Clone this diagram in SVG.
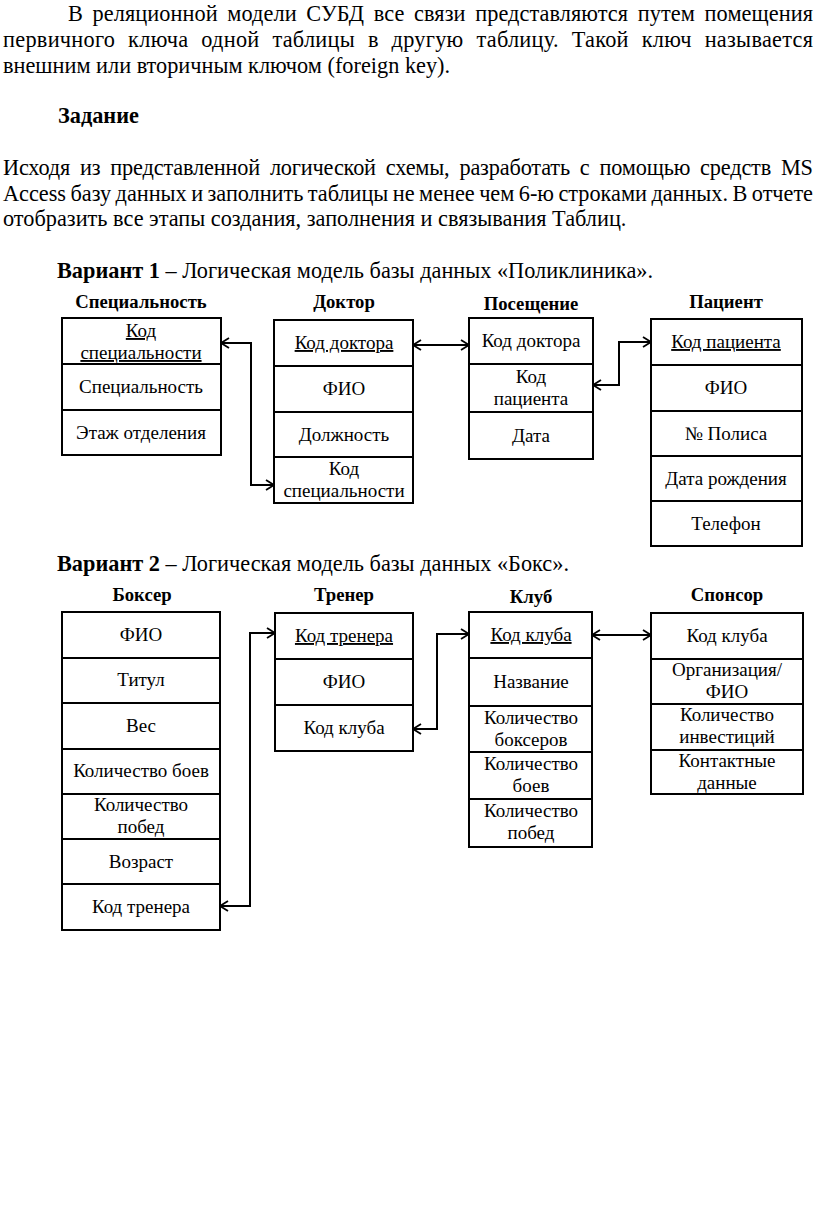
<svg xmlns="http://www.w3.org/2000/svg" width="816" height="1229" viewBox="0 0 816 1229">
<style>
.body{font-family:"Liberation Serif","Times New Roman",serif;font-size:22.3px;fill:#000}
.b{font-weight:bold}
.title{font-family:"Liberation Serif","Times New Roman",serif;font-size:18.7px;font-weight:bold;text-anchor:middle;fill:#000}
.cell{font-family:"Liberation Serif","Times New Roman",serif;font-size:19px;text-anchor:middle;fill:#000}
.u{text-decoration:underline}
.box{fill:#fff;stroke:#000;stroke-width:2}
.sep{stroke:#000;stroke-width:2}
.con{fill:none;stroke:#000;stroke-width:2;marker-start:url(#ah);marker-end:url(#ah)}
</style>
<defs>
<marker id="ah" markerWidth="12" markerHeight="12" refX="9" refY="6" orient="auto-start-reverse" markerUnits="userSpaceOnUse">
<path d="M1,1 L9,6 L1,11" fill="none" stroke="#000" stroke-width="1.8"/>
</marker>
</defs>
<rect width="816" height="1229" fill="#fff"/>

<g id="intro">
<text class="body" x="68" y="21" word-spacing="4" textLength="745" lengthAdjust="spacing">В реляционной модели СУБД все связи представляются путем помещения</text>
<text class="body" x="3" y="47" word-spacing="7" textLength="810" lengthAdjust="spacing">первичного ключа одной таблицы в другую таблицу. Такой ключ называется</text>
<text class="body" x="3" y="72.5">внешним или вторичным ключом (foreign key).</text>
<text class="body b" x="58" y="123">Задание</text>
<text class="body" x="3" y="175" word-spacing="4.5" textLength="810" lengthAdjust="spacing">Исходя из представленной логической схемы, разработать с помощью средств MS</text>
<text class="body" x="3" y="201" word-spacing="-1" textLength="810" lengthAdjust="spacing">Access базу данных и заполнить таблицы не менее чем 6-ю строками данных. В отчете</text>
<text class="body" x="3" y="226">отобразить все этапы создания, заполнения и связывания Таблиц.</text>
<text class="body" x="57" y="278"><tspan class="b">Вариант 1</tspan> – Логическая модель базы данных «Поликлиника».</text>
<text class="body" x="57" y="571"><tspan class="b">Вариант 2</tspan> – Логическая модель базы данных «Бокс».</text>
</g>

<g id="connectors">
<path class="con" d="M221,343 H251 V485 H274"/>
<path class="con" d="M413,345 H469"/>
<path class="con" d="M593,385 H619 V342 H651"/>
<path class="con" d="M220,906 H250 V633 H275"/>
<path class="con" d="M413,729 H437 V634 H469"/>
<path class="con" d="M592,635 H651"/>
</g>

<g id="t-specialnost">
<text class="title" x="141" y="308">Специальность</text>
<rect class="box" x="62" y="318" width="159" height="137"/>
<path class="sep" d="M62,364 H221 M62,410 H221"/>
<text class="cell u" x="141" y="337">Код</text>
<text class="cell u" x="141" y="359">специальности</text>
<text class="cell" x="141" y="393">Специальность</text>
<text class="cell" x="141" y="439">Этаж отделения</text>
</g>

<g id="t-doktor">
<text class="title" x="344" y="308">Доктор</text>
<rect class="box" x="274" y="320" width="139" height="183"/>
<path class="sep" d="M274,366 H413 M274,412 H413 M274,457 H413"/>
<text class="cell u" x="344" y="349">Код доктора</text>
<text class="cell" x="344" y="395">ФИО</text>
<text class="cell" x="344" y="441">Должность</text>
<text class="cell" x="344" y="475">Код</text>
<text class="cell" x="344" y="497">специальности</text>
</g>

<g id="t-poseshchenie">
<text class="title" x="531" y="310">Посещение</text>
<rect class="box" x="469" y="318" width="124" height="141"/>
<path class="sep" d="M469,364 H593 M469,412 H593"/>
<text class="cell" x="531" y="347">Код доктора</text>
<text class="cell" x="531" y="383">Код</text>
<text class="cell" x="531" y="405">пациента</text>
<text class="cell" x="531" y="442">Дата</text>
</g>

<g id="t-pacient">
<text class="title" x="726" y="308">Пациент</text>
<rect class="box" x="651" y="319" width="151" height="227"/>
<path class="sep" d="M651,365 H802 M651,411 H802 M651,456 H802 M651,501 H802"/>
<text class="cell u" x="726" y="348">Код пациента</text>
<text class="cell" x="726" y="394">ФИО</text>
<text class="cell" x="726" y="440">№ Полиса</text>
<text class="cell" x="726" y="485">Дата рождения</text>
<text class="cell" x="726" y="530">Телефон</text>
</g>

<g id="t-bokser">
<text class="title" x="142" y="601">Боксер</text>
<rect class="box" x="62" y="612" width="158" height="318"/>
<path class="sep" d="M62,658 H220 M62,703 H220 M62,749 H220 M62,794 H220 M62,839 H220 M62,884 H220"/>
<text class="cell" x="141" y="641">ФИО</text>
<text class="cell" x="141" y="686">Титул</text>
<text class="cell" x="141" y="732">Вес</text>
<text class="cell" x="141" y="777">Количество боев</text>
<text class="cell" x="141" y="811">Количество</text>
<text class="cell" x="141" y="833">побед</text>
<text class="cell" x="141" y="868">Возраст</text>
<text class="cell" x="141" y="913">Код тренера</text>
</g>

<g id="t-trener">
<text class="title" x="344" y="601">Тренер</text>
<rect class="box" x="275" y="613" width="138" height="138"/>
<path class="sep" d="M275,659 H413 M275,705 H413"/>
<text class="cell u" x="344" y="642">Код тренера</text>
<text class="cell" x="344" y="688">ФИО</text>
<text class="cell" x="344" y="734">Код клуба</text>
</g>

<g id="t-klub">
<text class="title" x="531" y="603">Клуб</text>
<rect class="box" x="469" y="612" width="123" height="235"/>
<path class="sep" d="M469,658 H592 M469,706 H592 M469,752 H592 M469,799 H592"/>
<text class="cell u" x="531" y="641">Код клуба</text>
<text class="cell" x="531" y="688">Название</text>
<text class="cell" x="531" y="724">Количество</text>
<text class="cell" x="531" y="746">боксеров</text>
<text class="cell" x="531" y="770">Количество</text>
<text class="cell" x="531" y="792">боев</text>
<text class="cell" x="531" y="817">Количество</text>
<text class="cell" x="531" y="839">побед</text>
</g>

<g id="t-sponsor">
<text class="title" x="727" y="601">Спонсор</text>
<rect class="box" x="651" y="613" width="152" height="181"/>
<path class="sep" d="M651,659 H803 M651,704 H803 M651,750 H803"/>
<text class="cell" x="727" y="642">Код клуба</text>
<text class="cell" x="727" y="676">Организация/</text>
<text class="cell" x="727" y="698">ФИО</text>
<text class="cell" x="727" y="721">Количество</text>
<text class="cell" x="727" y="743">инвестиций</text>
<text class="cell" x="727" y="767">Контактные</text>
<text class="cell" x="727" y="789">данные</text>
</g>
</svg>
